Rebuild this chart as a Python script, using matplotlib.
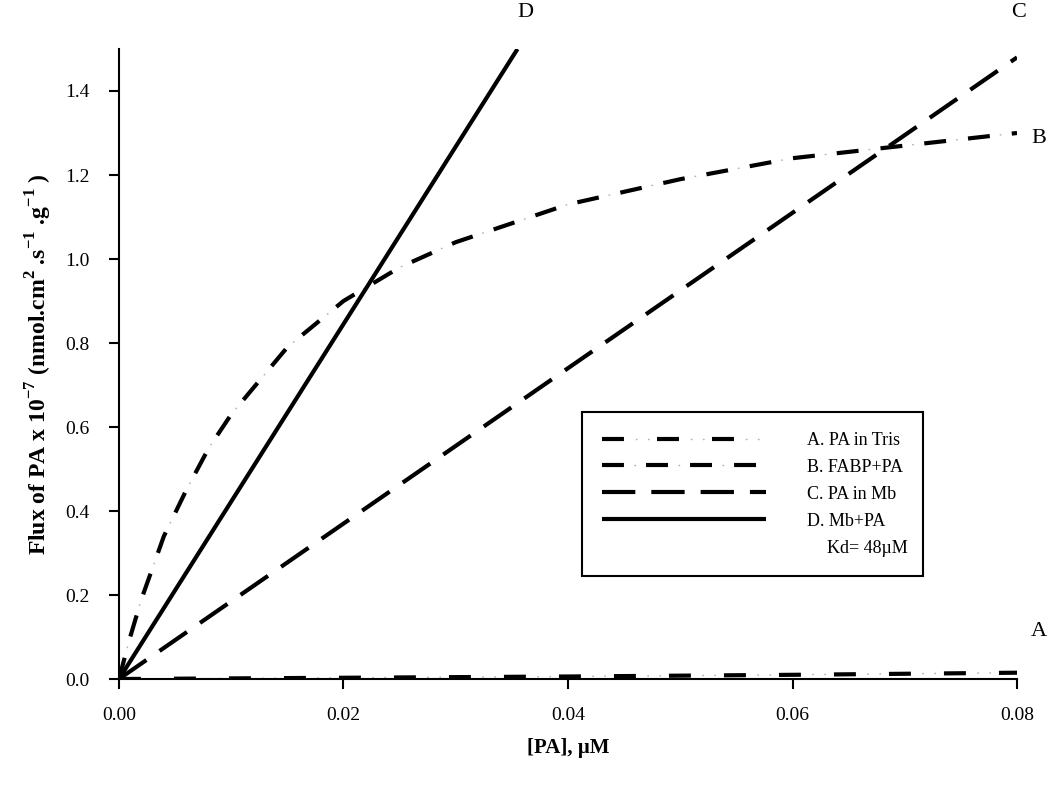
import matplotlib
matplotlib.use("Agg")

import matplotlib.pyplot as plt
from matplotlib.lines import Line2D

# data
pa_x = [0.0, 0.001, 0.002, 0.004, 0.006, 0.008, 0.01, 0.015, 0.02, 0.025,
        0.03, 0.04, 0.05, 0.06, 0.07, 0.08]
flux_b = [0.0, 0.10, 0.19, 0.34, 0.45, 0.55, 0.63, 0.79, 0.90, 0.98,
          1.04, 1.13, 1.19, 1.24, 1.27, 1.30]

pa_a = [0.0, 0.02, 0.04, 0.06, 0.08]
flux_a = [0.0, 0.003, 0.006, 0.010, 0.015]

pa_c = [0.0, 0.02, 0.04, 0.06, 0.08]
flux_c = [0.0, 0.37, 0.74, 1.11, 1.48]

pa_d = [0.0, 0.0355]
flux_d = [0.0, 1.50]

legend_labels = ["A. PA in Tris", "B. FABP+PA", "C. PA in Mb", "D. Mb+PA", "Kd= 48\u00b5M"]
curve_tags = ["A", "B", "C", "D"]
tag_pos = [(0.0812, 0.112), (0.0813, 1.288), (0.0795, 1.588), (0.0355, 1.588)]

plt.rcParams["font.family"] = ["Liberation Serif", "DejaVu Serif"]
plt.rcParams["mathtext.fontset"] = "custom"
plt.rcParams["mathtext.rm"] = "Liberation Serif"
plt.rcParams["mathtext.bf"] = "Liberation Serif:bold"
plt.rcParams["lines.scale_dashes"] = False

fig = plt.figure(figsize=(10.5, 7.89), dpi=100)
ax = fig.add_axes([0.1133, 0.1394, 0.8553, 0.7985])

lw = 3.0
gray = "#b0b0b0"

# A: long dash + two grey ticks
a_gray, = ax.plot(pa_a, flux_a, color=gray, lw=1.0,
                  linestyle=(-24, (1.2, 7.5, 1.2, 29.7)))
a_blk, = ax.plot(pa_a, flux_a, color="black", lw=lw,
                 linestyle=(0, (15.8, 23.8)), dash_capstyle="butt")

# B: dash + one grey tick
b_gray, = ax.plot(pa_x, flux_b, color=gray, lw=1.0,
                  linestyle=(-23, (1.2, 30.5)))
b_blk, = ax.plot(pa_x, flux_b, color="black", lw=lw,
                 linestyle=(0, (15.8, 15.9)), dash_capstyle="butt")

# C: long dash
c_blk, = ax.plot(pa_c, flux_c, color="black", lw=lw,
                 linestyle=(0, (24, 11.5)), dash_capstyle="butt")

# D: solid
d_blk, = ax.plot(pa_d, flux_d, color="black", lw=lw, solid_capstyle="butt")

for tag, (tx, ty) in zip(curve_tags, tag_pos):
    ax.text(tx, ty, tag, fontsize=16, ha="left", va="center", clip_on=False)

ax.set_xlim(0, 0.08)
ax.set_ylim(0, 1.5)
ax.set_xticks([0.0, 0.02, 0.04, 0.06, 0.08])
ax.set_xticklabels(["0.00", "0.02", "0.04", "0.06", "0.08"])
ax.set_yticks([0.0, 0.2, 0.4, 0.6, 0.8, 1.0, 1.2, 1.4])
ax.set_yticklabels(["0.0", "0.2", "0.4", "0.6", "0.8", "1.0", "1.2", "1.4"])

for side in ["top", "right"]:
    ax.spines[side].set_visible(False)
for side in ["left", "bottom"]:
    ax.spines[side].set_linewidth(1.5)
ax.tick_params(axis="both", direction="out", width=1.5, length=7, labelsize=14)
ax.tick_params(axis="x", pad=13)
ax.tick_params(axis="y", pad=14)

ax.set_xlabel("[PA], \u00b5M", fontsize=15, fontweight="bold", labelpad=10)
ax.set_ylabel(r"Flux of PA x 10$^{\mathbf{-7}}$ (nmol.cm$^{\mathbf{2}}$ .s$^{\mathbf{-1}}$ .g$^{\mathbf{-1}}$ )",
              fontsize=17, fontweight="bold", labelpad=8)

blank = Line2D([], [], color="none")
leg = ax.legend([(a_gray, a_blk), (b_gray, b_blk), c_blk, d_blk, blank],
                legend_labels, loc="upper left", bbox_to_anchor=(0.5156, 0.4238),
                borderaxespad=0, fontsize=13, handlelength=9.1, handletextpad=2.25,
                labelspacing=0.55, borderpad=1.1, fancybox=False, framealpha=1,
                edgecolor="black")
leg.get_frame().set_linewidth(1.5)
# shift the Kd line under the label text
leg.get_texts()[4].set_position((20, 0))

fig.savefig("out.png", dpi=100)
